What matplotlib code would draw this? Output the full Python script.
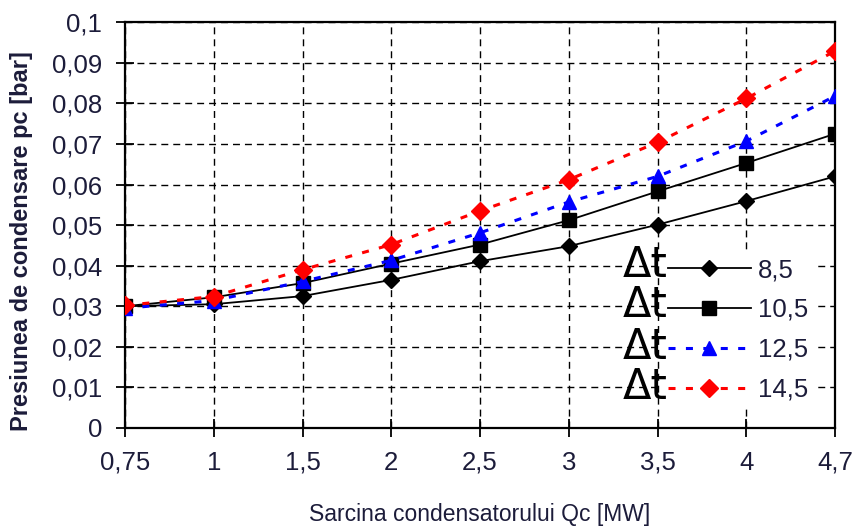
import numpy as np
import matplotlib
matplotlib.use('Agg')
import matplotlib.pyplot as plt

plt.rcParams['font.family'] = ['Liberation Sans', 'DejaVu Sans']

qc_labels = ['0,75', '1', '1,5', '2', '2,5', '3', '3,5', '4', '4,7']
p_85 = [0.0300, 0.0305, 0.0325, 0.0365, 0.0411, 0.0448, 0.0501, 0.0559, 0.0620]
p_105 = [0.0300, 0.0322, 0.0357, 0.0405, 0.0452, 0.0512, 0.0583, 0.0653, 0.0725]
p_125 = [0.0295, 0.0314, 0.0361, 0.0413, 0.0481, 0.0557, 0.0620, 0.0707, 0.0818]
p_145 = [0.0302, 0.0324, 0.0390, 0.0452, 0.0535, 0.0612, 0.0704, 0.0812, 0.0929]
dt_labels = ['8,5', '10,5', '12,5', '14,5']
yticks = np.arange(0, 0.1001, 0.01)

txt = '#1c1c3a'
fig = plt.figure(figsize=(8.54, 5.29), dpi=100)
ax = fig.add_axes([0.1464, 0.191, 0.8314, 0.767])
x = np.arange(len(qc_labels))

dash = (0, (2.3, 3.4))
l1, = ax.plot(x, p_85, color='black', lw=1.3, marker='D', ms=8.5, zorder=3)
l2, = ax.plot(x, p_105, color='black', lw=1.3, marker='s', ms=9.5, zorder=3)
l3, = ax.plot(x, p_125, color='#0000ff', lw=2.2, ls=dash, marker='^', ms=9.5, zorder=3)
l4, = ax.plot(x, p_145, color='#ff0000', lw=2.2, ls=dash, marker='D', ms=9, zorder=3)

ax.set_xlim(0, len(qc_labels) - 1)
ax.set_ylim(0, 0.1)
ax.set_xticks(x)
ax.set_xticklabels(qc_labels)
ax.set_yticks(yticks)
ax.set_yticklabels(['0' if v == 0 else ('%.2f' % v).rstrip('0').replace('.', ',') for v in yticks])
ax.tick_params(direction='inout', length=13, width=1.3, labelsize=18.5, labelcolor=txt, pad=10)
ax.tick_params(axis='x', pad=10)
ax.grid(True, color='black', ls=(0, (5, 3.6)), lw=1)
for s in ax.spines.values():
    s.set_linewidth(1.6)

ax.set_xlabel('Sarcina condensatorului Qc [MW]', fontsize=16.5, labelpad=20, color=txt)
ax.set_ylabel('Presiunea de condensare pc [bar]', fontsize=17, fontweight='bold', color=txt)
ax.yaxis.set_label_coords(-0.1296, 0.46)

leg = ax.legend([l1, l2, l3, l4], dt_labels, loc='lower right', bbox_to_anchor=(0.988, 0.02),
                fontsize=18.5, handlelength=3.2, labelspacing=0.62, frameon=True,
                facecolor='white', edgecolor='none', framealpha=1, borderpad=0.2,
                handletextpad=0.3)
leg.get_frame().set_boxstyle('square', pad=0)
for t in leg.get_texts():
    t.set_color(txt)
for yy in [0.401, 0.303, 0.200, 0.101]:
    ax.text(0.732, yy, '\u0394t', transform=ax.transAxes, fontsize=30, ha='center', va='center',
            family=['DejaVu Sans'], zorder=6)

fig.savefig('out.png', dpi=100)
